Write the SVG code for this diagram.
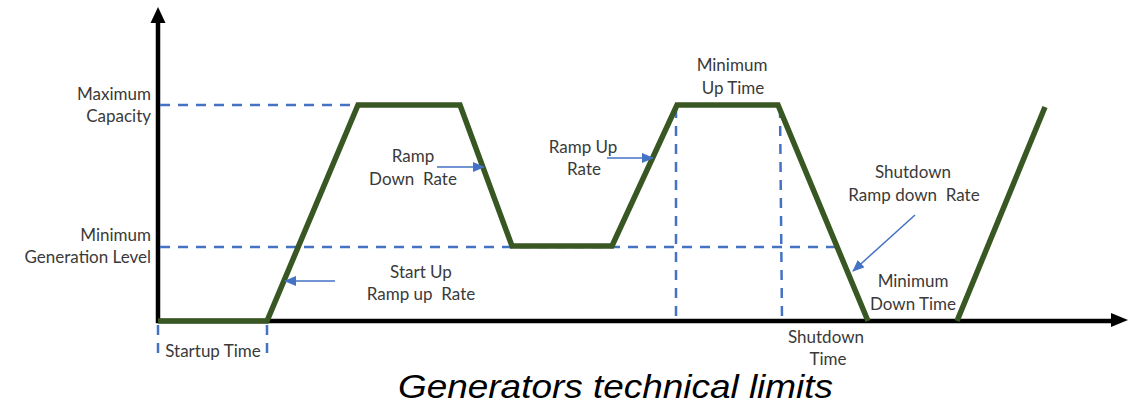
<svg xmlns="http://www.w3.org/2000/svg" width="1134" height="403" viewBox="0 0 1134 403">
  <style>
    .lbl { font-family: Lato, "Liberation Sans", sans-serif; font-size: 17px; fill: #3a3a3a; }
    .mid { text-anchor: middle; }
    .end { text-anchor: end; }
    .dash { stroke: #4472C4; stroke-width: 2.5; stroke-dasharray: 10 8; fill: none; }
    .axis { stroke: #000; stroke-width: 4.5; fill: none; }
    .gen { stroke: #385723; stroke-width: 5.5; fill: none; stroke-linejoin: miter; }
    .pointer { stroke: #4472C4; stroke-width: 1.5; fill: none; marker-end: url(#blueHead); }
    .title { font-family: "Liberation Sans", Arial, sans-serif; font-style: italic; font-size: 33px; fill: #000; }
  </style>
  <defs>
    <marker id="blueHead" markerUnits="userSpaceOnUse" markerWidth="12" markerHeight="10" refX="11" refY="5" orient="auto">
      <path d="M0,0 L12,5 L0,10 Z" fill="#4472C4"/>
    </marker>
  </defs>

  <rect width="1134" height="403" fill="#fff"/>

  <g id="axes">
    <line class="axis" x1="158" y1="323" x2="158" y2="20"/>
    <polygon points="158,7 150.5,23 165.5,23" fill="#000"/>
    <line class="axis" x1="156" y1="321" x2="1114" y2="321"/>
    <polygon points="1128,320 1111,313 1111,327" fill="#000"/>
  </g>

  <g id="guides">
    <line class="dash" x1="160" y1="105" x2="355" y2="105"/>
    <line class="dash" x1="160" y1="247" x2="837" y2="247"/>
    <line class="dash" x1="676" y1="108" x2="676" y2="320"/>
    <line class="dash" x1="780" y1="108" x2="782" y2="320"/>
    <line class="dash" x1="158" y1="325" x2="158" y2="358"/>
    <line class="dash" x1="267" y1="325" x2="267" y2="358"/>
  </g>

  <g id="generation-profile">
    <polyline class="gen" points="158,321 267,321 358,105 460,105 512,246 612,246 677,105 778,105 868,321"/>
    <line class="gen" x1="957" y1="321" x2="1045" y2="107"/>
  </g>

  <g id="connectors">
    <line class="pointer" x1="335" y1="281" x2="285" y2="281"/>
    <line class="pointer" x1="437" y1="167" x2="484" y2="167"/>
    <line class="pointer" x1="607" y1="158" x2="653" y2="158"/>
    <line class="pointer" x1="915" y1="215" x2="853" y2="271"/>
  </g>

  <g id="label-max-capacity">
    <text class="lbl end" x="151" y="100">Maximum</text>
    <text class="lbl end" x="151" y="122">Capacity</text>
  </g>
  <g id="label-min-gen">
    <text class="lbl end" x="151" y="241">Minimum</text>
    <text class="lbl end" x="151" y="263">Generation Level</text>
  </g>
  <g id="label-startup-time">
    <text class="lbl mid" x="213" y="357">Startup Time</text>
  </g>
  <g id="label-ramp-down">
    <text class="lbl mid" x="413" y="162">Ramp</text>
    <text class="lbl mid" x="413" y="185" xml:space="preserve">Down  Rate</text>
  </g>
  <g id="label-ramp-up">
    <text class="lbl mid" x="583" y="153">Ramp Up</text>
    <text class="lbl mid" x="584" y="175">Rate</text>
  </g>
  <g id="label-startup-ramp">
    <text class="lbl mid" x="421" y="278">Start Up</text>
    <text class="lbl mid" x="421" y="300" xml:space="preserve">Ramp up  Rate</text>
  </g>
  <g id="label-min-up">
    <text class="lbl mid" x="732" y="71">Minimum</text>
    <text class="lbl mid" x="733" y="94">Up Time</text>
  </g>
  <g id="label-shutdown-ramp">
    <text class="lbl mid" x="913" y="178">Shutdown</text>
    <text class="lbl mid" x="914" y="201" xml:space="preserve">Ramp down  Rate</text>
  </g>
  <g id="label-min-down">
    <text class="lbl mid" x="913" y="287">Minimum</text>
    <text class="lbl mid" x="913" y="310">Down Time</text>
  </g>
  <g id="label-shutdown-time">
    <text class="lbl mid" x="826" y="343">Shutdown</text>
    <text class="lbl mid" x="828" y="365">Time</text>
  </g>
  <g id="title">
    <text class="title" x="398" y="398" textLength="435" lengthAdjust="spacingAndGlyphs">Generators technical limits</text>
  </g>
</svg>
